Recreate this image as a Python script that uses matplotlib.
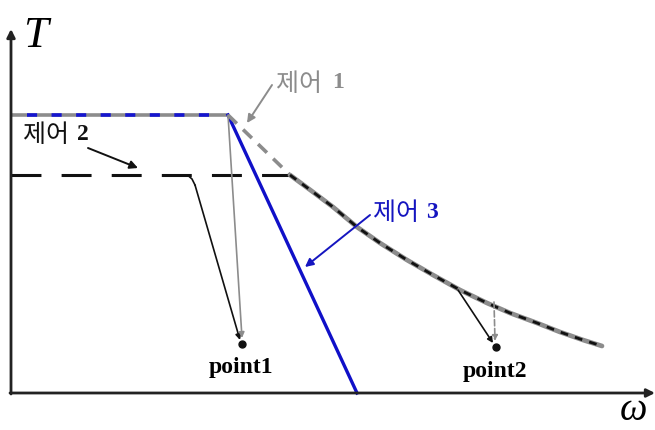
import matplotlib.pyplot as plt
import numpy as np

plt.rcParams['font.family'] = ['Noto Sans CJK KR', 'DejaVu Sans']

# chart units: omega to the right, T upwards (origin at the axis corner)
plateau1_w = [0.0, 2.17]
plateau1_T = [2.78, 2.78]
blue_dash_w = [0.16, 2.04]

ctrl1_w = [2.17, 2.79]
ctrl1_T = [2.78, 2.18]

ctrl3_w = [2.17, 3.46]
ctrl3_T = [2.78, 0.0]

plateau2_w = [0.0, 2.79]
plateau2_T = [2.18, 2.18]

curve_w = [2.79, 3.02, 3.22, 3.46, 3.69, 3.96, 4.22, 4.49, 4.76, 4.99,
           5.26, 5.49, 5.72, 5.91]
curve_T = [2.18, 2.01, 1.86, 1.66, 1.50, 1.33, 1.18, 1.03, 0.90, 0.80,
           0.70, 0.61, 0.53, 0.47]

# thin path that leaves plateau 2 and drops to point1
drop_w = [1.71, 1.77, 1.81, 1.84]
drop_T = [2.18, 2.175, 2.14, 2.08]

points = {'point1': (2.31, 0.49), 'point2': (4.85, 0.46)}

fig = plt.figure(figsize=(6.55, 4.30), dpi=100)
ax = fig.add_axes([0, 0, 1, 1])
ax.set_xlim(-0.11, 6.44)
ax.set_ylim(-0.37, 3.93)
ax.axis('off')

# axes with arrows
ax.annotate('', xy=(0, 3.64), xytext=(0, -0.01),
            arrowprops=dict(arrowstyle='-|>', color='#222222', lw=2.0,
                            mutation_scale=12, shrinkA=0, shrinkB=0))
ax.annotate('', xy=(6.44, 0), xytext=(-0.01, 0),
            arrowprops=dict(arrowstyle='-|>', color='#222222', lw=2.0,
                            mutation_scale=12, shrinkA=0, shrinkB=0))
ax.text(0.24, 3.57, 'T', family='Liberation Serif', style='italic',
        fontsize=32, ha='center', va='center')
ax.text(6.22, -0.17, 'ω', family='Liberation Serif', style='italic',
        fontsize=28, ha='center', va='center')

# plateau 1 (gray with blue dashes)
ax.plot(plateau1_w, plateau1_T, color='#8c8c8c', lw=2.6, solid_capstyle='butt')
ax.plot(blue_dash_w, plateau1_T, color='#1515d0', lw=2.6,
        dashes=(2.8, 4.0), solid_capstyle='butt')

# control 3 (blue)
ax.plot(ctrl3_w, ctrl3_T, color='#1010c8', lw=2.4)

# control 1 (gray dashed)
ax.plot(ctrl1_w, ctrl1_T, color='#8c8c8c', lw=2.6, dashes=(3.4, 2.4))

# plateau 2 (black long dashes)
ax.plot(plateau2_w, plateau2_T, color='#111111', lw=2.2, dashes=(9.8, 6.6))

# common curve: gray with short black dashes
ax.plot(curve_w, curve_T, color='#8c8c8c', lw=3.4, solid_capstyle='round',
        solid_joinstyle='round')
ax.plot(curve_w, curve_T, color='#111111', lw=2.0, dashes=(2.8, 2.6))

# paths to point1
ax.plot(drop_w, drop_T, color='#111111', lw=1.2)
ax.annotate('', xy=(points['point1'][0] - 0.02, points['point1'][1] + 0.04),
            xytext=(drop_w[-1], drop_T[-1]),
            arrowprops=dict(arrowstyle='-|>', color='#111111', lw=1.2,
                            mutation_scale=8, shrinkA=0, shrinkB=0))
ax.annotate('', xy=(points['point1'][0], points['point1'][1] + 0.06),
            xytext=(plateau1_w[-1], plateau1_T[-1]),
            arrowprops=dict(arrowstyle='-|>', color='#8c8c8c', lw=1.2,
                            mutation_scale=8, shrinkA=0, shrinkB=0))

# paths to point2
ax.annotate('', xy=(points['point2'][0] - 0.03, points['point2'][1] + 0.04),
            xytext=(4.47, 1.03),
            arrowprops=dict(arrowstyle='-|>', color='#111111', lw=1.2,
                            mutation_scale=8, shrinkA=0, shrinkB=0))
ax.annotate('', xy=(points['point2'][0] - 0.01, points['point2'][1] + 0.06),
            xytext=(4.83, 0.91),
            arrowprops=dict(arrowstyle='-|>', color='#8c8c8c', lw=1.2, ls='--',
                            mutation_scale=8, shrinkA=0, shrinkB=0))

for name, (pw, pt) in points.items():
    ax.plot(pw, pt, 'o', color='#111111', ms=5)
    ax.text(pw - 0.01, pt - 0.24, name, family='Liberation Serif',
            weight='bold', fontsize=17, ha='center', va='center')

# labels with arrows
ax.annotate('', xy=(2.36, 2.70), xytext=(2.61, 3.08),
            arrowprops=dict(arrowstyle='-|>', color='#8c8c8c', lw=1.4,
                            mutation_scale=12, shrinkA=0, shrinkB=0))
ax.text(2.65, 3.09, '제어', color='#8c8c8c', fontsize=18, ha='left', va='center')
ax.text(3.21, 3.10, '1', color='#8c8c8c', family='Liberation Serif',
        weight='bold', fontsize=17, ha='left', va='center')

ax.annotate('', xy=(1.27, 2.25), xytext=(0.77, 2.45),
            arrowprops=dict(arrowstyle='-|>', color='#111111', lw=1.4,
                            mutation_scale=12, shrinkA=0, shrinkB=0))
ax.text(0.12, 2.58, '제어', color='#111111', fontsize=18, ha='left', va='center')
ax.text(0.66, 2.59, '2', color='#111111', family='Liberation Serif',
        weight='bold', fontsize=17, ha='left', va='center')

ax.annotate('', xy=(2.94, 1.26), xytext=(3.59, 1.78),
            arrowprops=dict(arrowstyle='-|>', color='#1515c0', lw=1.4,
                            mutation_scale=12, shrinkA=0, shrinkB=0))
ax.text(3.62, 1.80, '제어', color='#1515c0', fontsize=18, ha='left', va='center')
ax.text(4.15, 1.81, '3', color='#1515c0', family='Liberation Serif',
        weight='bold', fontsize=17, ha='left', va='center')

fig.savefig('out.png', dpi=100)
